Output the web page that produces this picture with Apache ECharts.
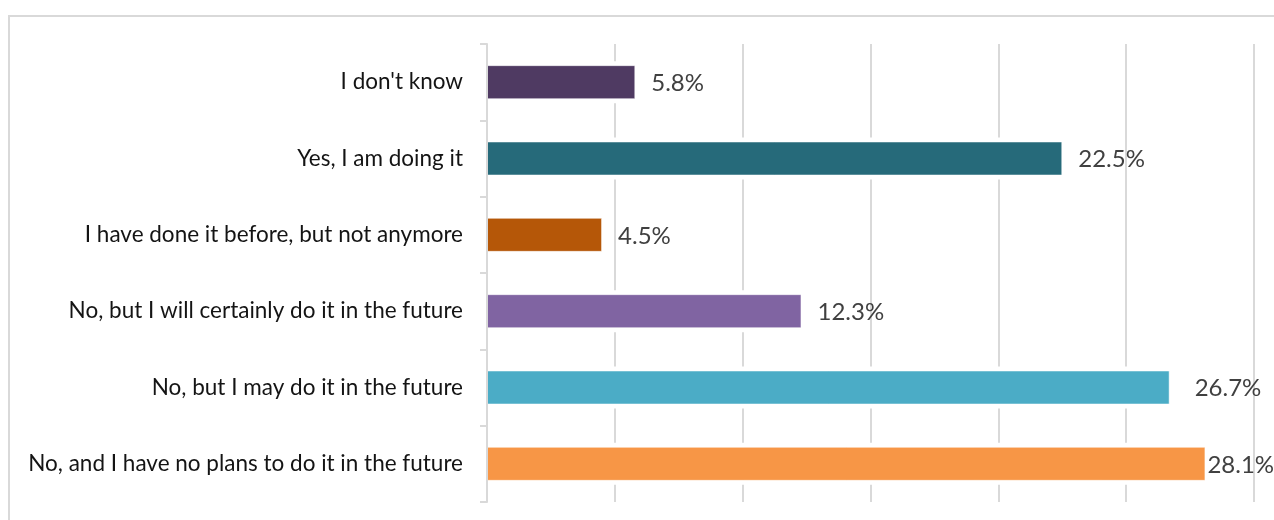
<!DOCTYPE html>
<html>
<head>
<meta charset="utf-8">
<title>Survey responses</title>
<script src="https://cdn.jsdelivr.net/npm/echarts@6/dist/echarts.min.js"></script>
<style>
  html, body { margin: 0; padding: 0; background: #ffffff; overflow: hidden; }
  #chart { width: 1274px; height: 520px; }
</style>
</head>
<body>
<div id="chart"></div>
<script>
// Answer options, listed top to bottom
const categories = [
  "I don't know",
  "Yes, I am doing it",
  "I have done it before, but not anymore",
  "No, but I will certainly do it in the future",
  "No, but I may do it in the future",
  "No, and I have no plans to do it in the future"
];

// Share of respondents per answer (%)
const shares = [5.8, 22.5, 4.5, 12.3, 26.7, 28.1];

// Bar fill per answer
const barColors = ['#4f3a62', '#266a7a', '#b55708', '#8064a2', '#4bacc6', '#f79646'];

// Extra spacing for a couple of value labels that sit further from / closer to their bar
const labelDistanceByIndex = { 4: 25, 5: 2 };

const FONT = 'Lato, "Noto Sans", sans-serif';
const GRID_COLOR = '#d9d9d9';

const chart = echarts.init(document.getElementById('chart'), null, { renderer: 'canvas' });

const barData = shares.map((v, i) => {
  const item = { value: v, itemStyle: { color: barColors[i] } };
  if (labelDistanceByIndex[i] !== undefined) {
    item.label = { distance: labelDistanceByIndex[i] };
  }
  return item;
});

chart.setOption({
  animation: false,
  backgroundColor: '#ffffff',
  graphic: [{
    type: 'rect',
    silent: true,
    z: -10,
    shape: { x: 9, y: 16, width: 1400, height: 700 },
    style: { fill: 'none', stroke: GRID_COLOR, lineWidth: 2 }
  }],
  grid: { left: 487, right: 20, top: 44, bottom: 18, containLabel: false },
  xAxis: {
    type: 'value',
    min: 0,
    max: 30,
    interval: 5,
    axisLine: { show: false },
    axisTick: { show: false },
    axisLabel: { show: false },
    splitLine: { show: true, lineStyle: { color: GRID_COLOR, width: 2 } }
  },
  yAxis: [{
    type: 'category',
    data: categories,
    inverse: true,
    axisLine: { show: true, lineStyle: { color: GRID_COLOR, width: 2 } },
    axisTick: { show: true, length: 7, lineStyle: { color: GRID_COLOR, width: 2 } },
    axisLabel: { margin: 24, color: '#141414', fontFamily: FONT, fontSize: 22.5 },
    z: 4
  }, {
    // twin axis so the white halo bars are centred on the same bands
    type: 'category',
    data: categories,
    inverse: true,
    show: false
  }],
  series: [{
    // white halo that clears the gridlines just around each bar
    type: 'bar',
    yAxisIndex: 1,
    data: shares,
    barWidth: 42,
    silent: true,
    itemStyle: { color: '#ffffff' },
    z: 2
  }, {
    type: 'bar',
    yAxisIndex: 0,
    data: barData,
    barWidth: 34,
    z: 3,
    itemStyle: { borderColor: 'rgba(255,255,255,0.5)', borderWidth: 1 },
    label: {
      show: true,
      position: 'right',
      distance: 16,
      formatter: p => p.value.toFixed(1) + '%',
      color: '#404040',
      fontFamily: FONT,
      fontSize: 24,
      offset: [0, 1]
    }
  }]
});
</script>
</body>
</html>
